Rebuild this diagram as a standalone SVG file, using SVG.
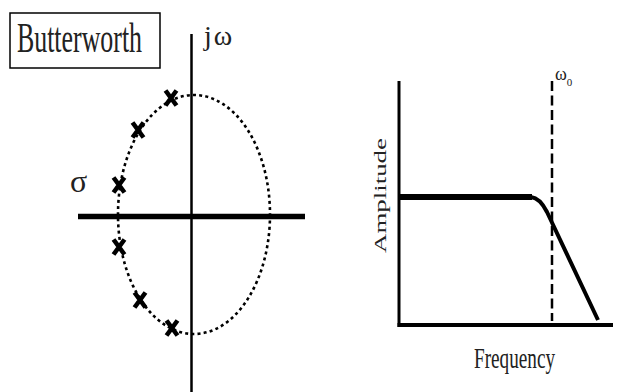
<svg xmlns="http://www.w3.org/2000/svg" width="618" height="392" viewBox="0 0 618 392">
<style>
.t{font-family:"Liberation Serif","Times New Roman",serif;fill:#222}
.ax{stroke:#000;fill:none}
.pole{stroke:#000;stroke-width:4.6;fill:none;stroke-linecap:butt}
</style>
<defs>
<path id="x" d="M-5.5,-7.5 L5.5,7.5 M5.5,-7.5 L-5.5,7.5"/>
</defs>
<rect width="618" height="392" fill="#fff"/>
<g id="title">
<rect x="10" y="13" width="150" height="55" fill="none" stroke="#000" stroke-width="1.5"/>
<text class="t" x="17" y="51.5" font-size="42" textLength="125" lengthAdjust="spacingAndGlyphs">Butterworth</text>
</g>
<g id="s-plane">
<line class="ax" x1="191.5" y1="34" x2="191.5" y2="392" stroke-width="2.5"/>
<line class="ax" x1="78" y1="216.5" x2="305" y2="216.5" stroke-width="5.5"/>
<ellipse cx="194" cy="214.5" rx="76" ry="119.5" fill="none" stroke="#000" stroke-width="2.6" stroke-dasharray="3,3.2"/>
<text class="t" x="204" y="45" font-size="28" letter-spacing="2">jω</text>
<text class="t" x="70" y="192" font-size="32">σ</text>
</g>
<g id="poles" class="pole">
<use href="#x" x="171" y="98"/>
<use href="#x" x="138" y="130"/>
<use href="#x" x="119" y="185"/>
<use href="#x" x="119" y="247"/>
<use href="#x" x="140" y="300"/>
<use href="#x" x="172" y="328"/>
</g>
<g id="response">
<line class="ax" x1="399" y1="81" x2="399" y2="327" stroke-width="3"/>
<line class="ax" x1="397.5" y1="325" x2="613" y2="325" stroke-width="4"/>
<line class="ax" x1="552" y1="81" x2="552" y2="321" stroke-width="2.5" stroke-dasharray="10,4.5"/>
<path class="ax" d="M399,197 L532,197" stroke-width="6"/>
<path class="ax" d="M531,197 Q540,198 547,212 L598,320" stroke-width="4"/>
<text class="t" x="555" y="80" font-size="18">ω<tspan font-size="11" dy="6">0</tspan></text>
<text class="t" font-size="16" transform="translate(386,253) rotate(-90)" textLength="115" lengthAdjust="spacingAndGlyphs">Amplitude</text>
<text class="t" x="474" y="368" font-size="29" textLength="81" lengthAdjust="spacingAndGlyphs">Frequency</text>
</g>
</svg>
